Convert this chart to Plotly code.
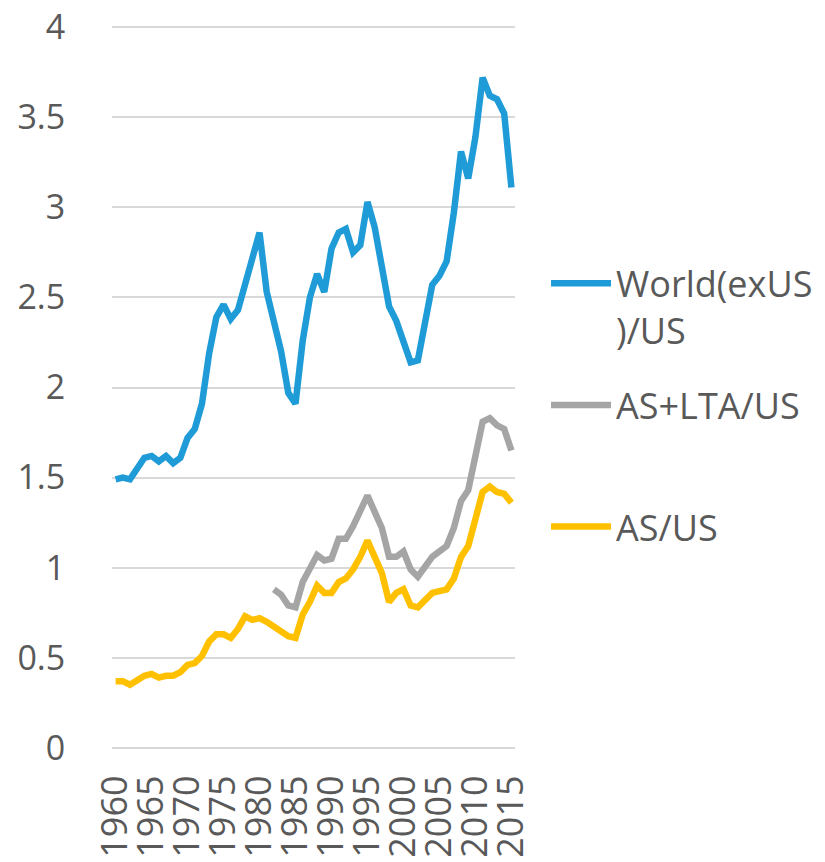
import plotly.graph_objects as go

years = list(range(1960, 2016))

world_exus_us = [1.49, 1.50, 1.49, 1.55, 1.61, 1.62, 1.59, 1.62, 1.58, 1.61,
                 1.72, 1.77, 1.91, 2.19, 2.39, 2.46, 2.38, 2.43, 2.58, 2.72,
                 2.86, 2.53, 2.37, 2.20, 1.97, 1.91, 2.26, 2.50, 2.63, 2.53,
                 2.77, 2.86, 2.88, 2.75, 2.79, 3.03, 2.89, 2.66, 2.45, 2.37,
                 2.26, 2.14, 2.15, 2.38, 2.57, 2.62, 2.70, 2.97, 3.31, 3.16,
                 3.39, 3.72, 3.62, 3.60, 3.52, 3.11]

as_lta_us = [None] * 22 + [0.88, 0.85, 0.79, 0.78, 0.92, 0.99, 1.07, 1.04,
                           1.05, 1.16, 1.16, 1.23, 1.31, 1.40, 1.31, 1.22,
                           1.06, 1.06, 1.09, 0.99, 0.95, 1.00, 1.06, 1.09,
                           1.12, 1.22, 1.37, 1.43, 1.62, 1.81, 1.83, 1.79,
                           1.77, 1.65]

as_us = [0.37, 0.37, 0.35, 0.38, 0.40, 0.41, 0.39, 0.40, 0.40, 0.42,
         0.46, 0.47, 0.51, 0.59, 0.63, 0.63, 0.61, 0.66, 0.73, 0.71,
         0.72, 0.70, 0.67, 0.65, 0.62, 0.61, 0.74, 0.81, 0.90, 0.86,
         0.86, 0.92, 0.94, 0.99, 1.06, 1.15, 1.06, 0.97, 0.81, 0.86,
         0.88, 0.79, 0.78, 0.82, 0.86, 0.87, 0.88, 0.94, 1.06, 1.12,
         1.27, 1.42, 1.45, 1.42, 1.41, 1.36]

series_names = ["World(exUS<br>)/US", "AS+LTA/US<br>&nbsp;", "AS/US"]
series_colors = ["#1F9BD7", "#A5A5A5", "#FFC000"]
x_tick_vals = list(range(1960, 2016, 5))
y_tick_vals = [0, 0.5, 1, 1.5, 2, 2.5, 3, 3.5, 4]
y_tick_text = ["0", "0.5", "1", "1.5", "2", "2.5", "3", "3.5", "4"]

fig = go.Figure()
for i, (name, vals, col) in enumerate(zip(series_names,
                                          [world_exus_us, as_lta_us, as_us],
                                          series_colors)):
    fig.add_trace(go.Scatter(x=years, y=vals, mode="lines", name=name,
                             legendgroup=str(i),
                             line=dict(color=col, width=6.5),
                             connectgaps=False))

fig.update_layout(
    width=840, height=870,
    margin=dict(l=104, r=333, t=17, b=128, autoexpand=False),
    plot_bgcolor="white", paper_bgcolor="white",
    font=dict(family="Open Sans", color="#595959"),
    showlegend=True,
    legend=dict(x=1.077, xanchor="left", y=0.685, yanchor="top",
                font=dict(size=36, color="#595959"),
                itemwidth=60, valign="top",
                tracegroupgap=25, bgcolor="rgba(0,0,0,0)"),
)
fig.update_xaxes(range=[1959.5, 2015.5], tickmode="array", tickvals=x_tick_vals,
                 ticktext=[str(v) for v in x_tick_vals], tickangle=-90,
                 tickfont=dict(size=36, color="#595959"), automargin=False,
                 ticklabeloverflow="allow",
                 showgrid=False, zeroline=False, showline=False,
                 ticks="outside", ticklen=10, tickcolor="rgba(0,0,0,0)")
fig.update_yaxes(range=[-0.012, 4.012], tickmode="array", tickvals=y_tick_vals,
                 ticktext=y_tick_text, automargin=False,
                 ticklabeloverflow="allow",
                 tickfont=dict(size=34, color="#595959"),
                 showgrid=True, gridcolor="#D9D9D9", gridwidth=1.5,
                 zeroline=False, showline=False,
                 ticks="outside", ticklen=39, tickcolor="rgba(0,0,0,0)")

fig.write_html("out.html")
